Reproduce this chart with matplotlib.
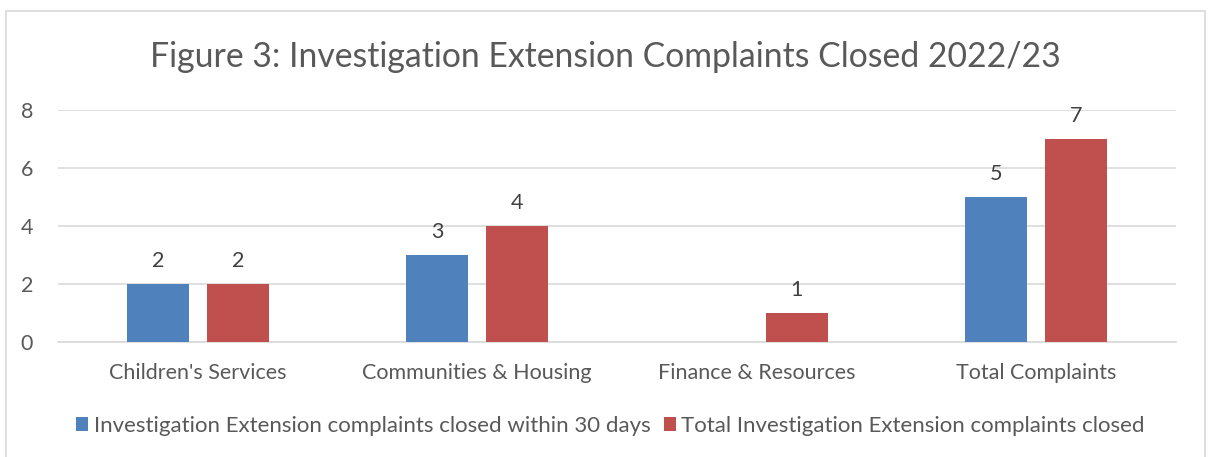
import numpy as np
import matplotlib.pyplot as plt
from matplotlib.patches import Rectangle

categories = ["Children's Services", "Communities & Housing", "Finance & Resources", "Total Complaints"]
within_30 = [2, 3, 0, 5]
total_closed = [2, 4, 1, 7]
series_names = ["Investigation Extension complaints closed within 30 days",
                "Total Investigation Extension complaints closed"]

plt.rcParams['font.family'] = ['Lato', 'DejaVu Sans']

fig = plt.figure(figsize=(12.11, 4.57), dpi=100)
ax = fig.add_axes([0.0479, 0.2516, 0.9231, 0.5077])

# chart border
fig.patches.append(Rectangle((6/1211, -0.02), 1199/1211, (457-11)/457 + 0.02,
                             transform=fig.transFigure, fill=False,
                             edgecolor='#D9D9D9', linewidth=1.2))

x = np.arange(len(categories))
w = 0.222
off = 0.143
b1 = ax.bar(x - off, within_30, w, color='#4F81BD', label=series_names[0], zorder=3)
b2 = ax.bar(x + off, total_closed, w, color='#C0504D', label=series_names[1], zorder=3)

for bars, vals in ((b1, within_30), (b2, total_closed)):
    for r, v in zip(bars, vals):
        if v == 0:
            continue
        ax.text(r.get_x() + r.get_width()/2, v + 0.45, str(v), ha='center', va='bottom',
                fontsize=15.5, color='#404040')

ax.set_xlim(-0.5, 3.5)
ax.set_ylim(0, 8)
ax.set_yticks([0, 2, 4, 6, 8])
ax.yaxis.grid(True, color='#D9D9D9', linewidth=1.2, zorder=0)
ax.set_axisbelow(True)
for s in ('top', 'right', 'left'):
    ax.spines[s].set_visible(False)
ax.spines['bottom'].set_color('#D9D9D9')
ax.spines['bottom'].set_linewidth(1.2)
ax.set_xticks(x)
ax.set_xticklabels(categories)
ax.tick_params(axis='both', length=0, labelsize=15.5, labelcolor='#595959')
ax.tick_params(axis='x', pad=15)
ax.tick_params(axis='y', pad=18)

fig.text(0.5, 0.875, 'Figure 3: Investigation Extension Complaints Closed 2022/23',
         ha='center', va='center', fontsize=24.3, color='#595959')

fig.legend(loc='center', bbox_to_anchor=(0.504, 0.068), ncol=2, frameon=False,
           fontsize=16, handlelength=0.55, handleheight=0.55, handletextpad=0.25,
           columnspacing=0.6, labelcolor='#595959')

plt.savefig('out.png', dpi=100)
